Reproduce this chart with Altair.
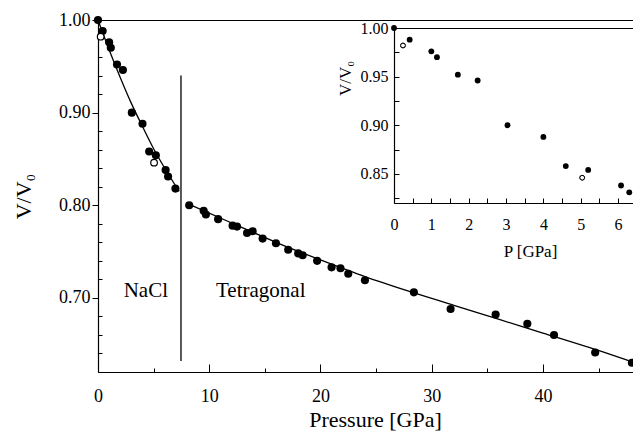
import altair as alt
import pandas as pd

# ---------------- data ----------------
# filled symbols (main panel)
main_P = [0.0, 0.42, 1.0, 1.15, 1.71, 2.24, 3.04, 4.0, 4.6, 5.2, 6.08, 6.3, 6.96,
          8.2, 9.5, 9.7, 10.8, 12.1, 12.5, 13.4, 13.9, 14.8, 16.0, 17.1, 18.0, 18.4,
          19.7, 21.0, 21.8, 22.5, 24.0, 28.4, 31.7, 35.75, 38.6, 41.0, 44.7, 48.0]
main_V = [1.000, 0.988, 0.976, 0.970, 0.952, 0.946, 0.900, 0.888, 0.858, 0.854, 0.838, 0.831, 0.818,
          0.800, 0.794, 0.790, 0.785, 0.778, 0.777, 0.770, 0.772, 0.764, 0.759, 0.752, 0.748, 0.746,
          0.740, 0.733, 0.732, 0.726, 0.719, 0.706, 0.688, 0.682, 0.672, 0.660, 0.641, 0.630]
# open symbols
open_P = [0.24, 5.04]
open_V = [0.982, 0.846]
# fitted curves
nacl_fit_P = [0, 1, 2, 3, 4, 5, 6, 7.3]
nacl_fit_V = [1.000, 0.968, 0.938, 0.910, 0.885, 0.861, 0.840, 0.815]
tet_fit_P = [8, 12, 16, 20, 24, 28, 32, 36, 40, 44, 48]
tet_fit_V = [0.802, 0.781, 0.760, 0.741, 0.723, 0.707, 0.692, 0.677, 0.662, 0.647, 0.631]
# phase boundary
boundary_P = [7.46]
boundary_V_low = [0.632]
boundary_V_high = [0.940]
# phase labels
phase_labels = ["NaCl", "Tetragonal"]
label_P = [4.3, 14.63]
label_V = [0.701, 0.701]

# axes ticks
main_x_ticks = [0, 10, 20, 30, 40]
main_x_minor = [5, 15, 25, 35, 45]
main_y_ticks = [0.70, 0.80, 0.90, 1.00]
main_y_minor = [0.64, 0.66, 0.68, 0.72, 0.74, 0.76, 0.78, 0.82, 0.84, 0.86, 0.88, 0.92, 0.94, 0.96, 0.98]
inset_x_ticks = [0, 1, 2, 3, 4, 5, 6]
inset_x_minor = [0, 0.5, 1, 1.5, 2, 2.5, 3, 3.5, 4, 4.5, 5, 5.5, 6, 6.5]
inset_y_ticks = [0.85, 0.90, 0.95, 1.00]
inset_y_minor = [0.825, 0.85, 0.875, 0.90, 0.925, 0.95, 0.975]

FONT = "Liberation Serif"
W, H = 535, 352
INSET_LEFT = 296

main_df = pd.DataFrame({"P": main_P, "V": main_V})
open_df = pd.DataFrame({"P": open_P, "V": open_V})
nacl_df = pd.DataFrame({"P": nacl_fit_P, "V": nacl_fit_V})
tet_df = pd.DataFrame({"P": tet_fit_P, "V": tet_fit_V})
bound_df = pd.DataFrame({"P": boundary_P, "V1": boundary_V_low, "V2": boundary_V_high})
lab_df = pd.DataFrame({"P": label_P, "V": label_V, "t": phase_labels})

mx = alt.Scale(domain=[0, 48.1], range=[0, W], nice=False, zero=False)
my = alt.Scale(domain=[0.62, 1.00], range=[H, 0], nice=False, zero=False)
ix = alt.Scale(domain=[0, 6.4], range=[INSET_LEFT, W], nice=False, zero=False)
iy = alt.Scale(domain=[0.82, 1.00], range=[183, 8], nice=False, zero=False)

common = dict(grid=False, labelFont=FONT, titleFont=FONT, labelColor="black", titleColor="black",
              domainColor="black", tickColor="black", labelOverlap=False, labelFlush=False,
              titleFontWeight="normal")


def tick_axis(orient, offset, values, size):
    return alt.Axis(orient=orient, offset=offset, values=values, ticks=True, tickSize=size,
                    tickWidth=1, domain=False, labels=False, title=None, **common)


def frame_axis(orient, offset):
    return alt.Axis(orient=orient, offset=offset, ticks=False, tickSize=0, domain=True,
                    domainWidth=1.2, labels=False, title=None, **common)


# main axes
ax_main_bottom = alt.Axis(orient="bottom", values=main_x_ticks, format="d", ticks=False, tickSize=0,
                          labelPadding=15, labelFontSize=18, domainWidth=1.2,
                          title="Pressure [GPa]", titleFontSize=22, titleX=277, titleY=54,
                          titleBaseline="alphabetic", titleAlign="center", titleAngle=0, **common)
ax_main_left = alt.Axis(orient="left", values=main_y_ticks, format=".2f", ticks=True, tickSize=6,
                        tickWidth=1, labelPadding=2, labelFontSize=18, domainWidth=1.2,
                        title="V/V₀", titleFontSize=22, titleX=-68, titleY=176,
                        titleBaseline="alphabetic", titleAlign="center", titleAngle=270, **common)

# inset axes
ax_inset_bottom = alt.Axis(orient="bottom", offset=-(H - 183), values=inset_x_ticks, format="d",
                           ticks=False, tickSize=0, labelPadding=13, labelFontSize=16, domainWidth=1.2,
                           title="P [GPa]", titleFontSize=17, titleX=432, titleY=53,
                           titleBaseline="alphabetic", titleAlign="center", titleAngle=0, **common)
ax_inset_left = alt.Axis(orient="left", offset=-INSET_LEFT, values=inset_y_ticks, format=".2f",
                         ticks=False, tickSize=0, labelPadding=6, labelFontSize=16, domainWidth=1.2,
                         title="V/V₀", titleFontSize=17, titleX=-44, titleY=58,
                         titleBaseline="alphabetic", titleAlign="center", titleAngle=270, **common)

pts_main = alt.Chart(main_df).mark_circle(size=66, color="black", opacity=1).encode(
    x=alt.X("P:Q", scale=mx, axis=ax_main_bottom),
    y=alt.Y("V:Q", scale=my, axis=ax_main_left),
)
pts_open = alt.Chart(open_df).mark_circle(size=44, fill="white", stroke="black", strokeWidth=1.2,
                                          opacity=1).encode(
    x=alt.X("P:Q", scale=mx, axis=frame_axis("top", 0)),
    y=alt.Y("V:Q", scale=my, axis=tick_axis("right", -W, main_y_minor, 4)),
)
line_nacl = alt.Chart(nacl_df).mark_line(color="black", strokeWidth=1.3, interpolate="monotone").encode(
    x=alt.X("P:Q", scale=mx, axis=tick_axis("top", -H, main_x_ticks, 8)),
    y=alt.Y("V:Q", scale=my, axis=None),
)
line_tet = alt.Chart(tet_df).mark_line(color="black", strokeWidth=1.3, interpolate="monotone").encode(
    x=alt.X("P:Q", scale=mx, axis=tick_axis("top", -H, main_x_minor, 4)),
    y=alt.Y("V:Q", scale=my, axis=None),
)
rule = alt.Chart(bound_df).mark_rule(color="black", strokeWidth=1.3).encode(
    x=alt.X("P:Q", scale=mx, axis=None),
    y=alt.Y("V1:Q", scale=my, axis=None),
    y2="V2:Q",
)
labels = alt.Chart(lab_df).mark_text(font=FONT, fontSize=21, baseline="alphabetic", align="center",
                                     color="black").encode(
    x=alt.X("P:Q", scale=mx, axis=None),
    y=alt.Y("V:Q", scale=my, axis=None),
    text="t:N",
)

inset_filter = (alt.datum.P <= 6.5) & (alt.datum.V >= 0.82)
ins_pts = alt.Chart(main_df).transform_filter(inset_filter).mark_circle(
    size=34, color="black", opacity=1).encode(
    x=alt.X("P:Q", scale=ix, axis=ax_inset_bottom),
    y=alt.Y("V:Q", scale=iy, axis=ax_inset_left),
)
ins_open = alt.Chart(open_df).transform_filter(inset_filter).mark_circle(
    size=22, fill="white", stroke="black", strokeWidth=1, opacity=1).encode(
    x=alt.X("P:Q", scale=ix, axis=frame_axis("top", -8)),
    y=alt.Y("V:Q", scale=iy, axis=tick_axis("right", -(W - INSET_LEFT), inset_y_minor, 5)),
)
ins_open2 = alt.Chart(open_df).transform_filter(inset_filter).mark_circle(
    size=22, fill="white", stroke="black", strokeWidth=1, opacity=1).encode(
    x=alt.X("P:Q", scale=ix, axis=tick_axis("top", -183, inset_x_minor, 5)),
    y=alt.Y("V:Q", scale=iy, axis=None),
)

chart = alt.layer(
    line_nacl, line_tet, rule, labels, pts_main, pts_open, ins_pts, ins_open, ins_open2
).resolve_scale(x="independent", y="independent").properties(
    width=W, height=H,
    padding={"left": 90, "top": 12, "right": 0, "bottom": 59},
    autosize=alt.AutoSizeParams(type="none"),
    background="white",
).configure_view(stroke=None)

chart.save("out.html", embed_options={"renderer": "svg", "actions": False})
